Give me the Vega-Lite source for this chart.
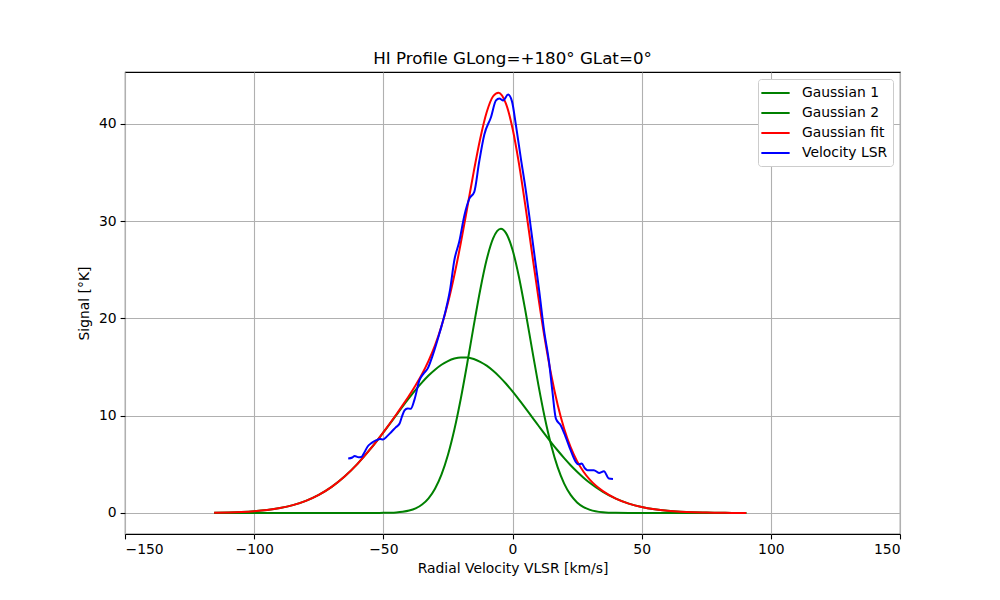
{
  "$schema": "https://vega.github.io/schema/vega-lite/v6.json",
  "width": 775,
  "height": 462,
  "autosize": {"type": "none"},
  "padding": {"left": 125, "top": 72, "right": 100, "bottom": 66},
  "background": "white",
  "title": {
    "text": "HI Profile GLong=+180° GLat=0°",
    "font": "DejaVu Sans",
    "fontSize": 16.7,
    "fontWeight": "normal",
    "color": "#000000",
    "anchor": "middle",
    "offset": 4
  },
  "data": {
    "values": [
      {"velocity": -115.5, "signal": 0.027, "series": "Gaussian 1"},
      {"velocity": -110, "signal": 0.055, "series": "Gaussian 1"},
      {"velocity": -105, "signal": 0.100, "series": "Gaussian 1"},
      {"velocity": -100, "signal": 0.178, "series": "Gaussian 1"},
      {"velocity": -95, "signal": 0.304, "series": "Gaussian 1"},
      {"velocity": -90, "signal": 0.504, "series": "Gaussian 1"},
      {"velocity": -85, "signal": 0.806, "series": "Gaussian 1"},
      {"velocity": -80, "signal": 1.247, "series": "Gaussian 1"},
      {"velocity": -75, "signal": 1.862, "series": "Gaussian 1"},
      {"velocity": -70, "signal": 2.688, "series": "Gaussian 1"},
      {"velocity": -65, "signal": 3.749, "series": "Gaussian 1"},
      {"velocity": -60, "signal": 5.05, "series": "Gaussian 1"},
      {"velocity": -55, "signal": 6.578, "series": "Gaussian 1"},
      {"velocity": -50, "signal": 8.277, "series": "Gaussian 1"},
      {"velocity": -45, "signal": 10.06, "series": "Gaussian 1"},
      {"velocity": -42.5, "signal": 10.96, "series": "Gaussian 1"},
      {"velocity": -40, "signal": 11.82, "series": "Gaussian 1"},
      {"velocity": -37.5, "signal": 12.65, "series": "Gaussian 1"},
      {"velocity": -35, "signal": 13.42, "series": "Gaussian 1"},
      {"velocity": -32.5, "signal": 14.12, "series": "Gaussian 1"},
      {"velocity": -30, "signal": 14.72, "series": "Gaussian 1"},
      {"velocity": -27.5, "signal": 15.23, "series": "Gaussian 1"},
      {"velocity": -25, "signal": 15.61, "series": "Gaussian 1"},
      {"velocity": -22.5, "signal": 15.87, "series": "Gaussian 1"},
      {"velocity": -20, "signal": 15.99, "series": "Gaussian 1"},
      {"velocity": -17.5, "signal": 15.98, "series": "Gaussian 1"},
      {"velocity": -15, "signal": 15.83, "series": "Gaussian 1"},
      {"velocity": -12.5, "signal": 15.54, "series": "Gaussian 1"},
      {"velocity": -10, "signal": 15.14, "series": "Gaussian 1"},
      {"velocity": -7.5, "signal": 14.61, "series": "Gaussian 1"},
      {"velocity": -5, "signal": 13.99, "series": "Gaussian 1"},
      {"velocity": -2.5, "signal": 13.28, "series": "Gaussian 1"},
      {"velocity": 0, "signal": 12.49, "series": "Gaussian 1"},
      {"velocity": 2.5, "signal": 11.65, "series": "Gaussian 1"},
      {"velocity": 5, "signal": 10.78, "series": "Gaussian 1"},
      {"velocity": 7.5, "signal": 9.88, "series": "Gaussian 1"},
      {"velocity": 10, "signal": 8.99, "series": "Gaussian 1"},
      {"velocity": 12.5, "signal": 8.10, "series": "Gaussian 1"},
      {"velocity": 15, "signal": 7.24, "series": "Gaussian 1"},
      {"velocity": 17.5, "signal": 6.42, "series": "Gaussian 1"},
      {"velocity": 20, "signal": 5.64, "series": "Gaussian 1"},
      {"velocity": 22.5, "signal": 4.91, "series": "Gaussian 1"},
      {"velocity": 25, "signal": 4.24, "series": "Gaussian 1"},
      {"velocity": 27.5, "signal": 3.63, "series": "Gaussian 1"},
      {"velocity": 30, "signal": 3.08, "series": "Gaussian 1"},
      {"velocity": 35, "signal": 2.165, "series": "Gaussian 1"},
      {"velocity": 40, "signal": 1.469, "series": "Gaussian 1"},
      {"velocity": 45, "signal": 0.964, "series": "Gaussian 1"},
      {"velocity": 50, "signal": 0.611, "series": "Gaussian 1"},
      {"velocity": 55, "signal": 0.374, "series": "Gaussian 1"},
      {"velocity": 60, "signal": 0.221, "series": "Gaussian 1"},
      {"velocity": 65, "signal": 0.127, "series": "Gaussian 1"},
      {"velocity": 70, "signal": 0.070, "series": "Gaussian 1"},
      {"velocity": 75, "signal": 0.037, "series": "Gaussian 1"},
      {"velocity": 80, "signal": 0.019, "series": "Gaussian 1"},
      {"velocity": 85, "signal": 0.010, "series": "Gaussian 1"},
      {"velocity": 90.5, "signal": 0.004, "series": "Gaussian 1"},

      {"velocity": -115.5, "signal": 0, "series": "Gaussian 2"},
      {"velocity": -90, "signal": 0, "series": "Gaussian 2"},
      {"velocity": -70, "signal": 0, "series": "Gaussian 2"},
      {"velocity": -60, "signal": 0, "series": "Gaussian 2"},
      {"velocity": -55, "signal": 0.001, "series": "Gaussian 2"},
      {"velocity": -50, "signal": 0.012, "series": "Gaussian 2"},
      {"velocity": -45, "signal": 0.059, "series": "Gaussian 2"},
      {"velocity": -42.5, "signal": 0.124, "series": "Gaussian 2"},
      {"velocity": -40, "signal": 0.249, "series": "Gaussian 2"},
      {"velocity": -37.5, "signal": 0.476, "series": "Gaussian 2"},
      {"velocity": -35, "signal": 0.867, "series": "Gaussian 2"},
      {"velocity": -32.5, "signal": 1.507, "series": "Gaussian 2"},
      {"velocity": -30, "signal": 2.50, "series": "Gaussian 2"},
      {"velocity": -27.5, "signal": 3.95, "series": "Gaussian 2"},
      {"velocity": -25, "signal": 5.96, "series": "Gaussian 2"},
      {"velocity": -22.5, "signal": 8.58, "series": "Gaussian 2"},
      {"velocity": -20, "signal": 11.77, "series": "Gaussian 2"},
      {"velocity": -17.5, "signal": 15.41, "series": "Gaussian 2"},
      {"velocity": -15, "signal": 19.25, "series": "Gaussian 2"},
      {"velocity": -12.5, "signal": 22.92, "series": "Gaussian 2"},
      {"velocity": -10, "signal": 26.04, "series": "Gaussian 2"},
      {"velocity": -7.5, "signal": 28.22, "series": "Gaussian 2"},
      {"velocity": -4.5, "signal": 29.2, "series": "Gaussian 2"},
      {"velocity": -2.5, "signal": 28.76, "series": "Gaussian 2"},
      {"velocity": 0, "signal": 27.05, "series": "Gaussian 2"},
      {"velocity": 2.5, "signal": 24.26, "series": "Gaussian 2"},
      {"velocity": 5, "signal": 20.76, "series": "Gaussian 2"},
      {"velocity": 7.5, "signal": 16.94, "series": "Gaussian 2"},
      {"velocity": 10, "signal": 13.19, "series": "Gaussian 2"},
      {"velocity": 12.5, "signal": 9.79, "series": "Gaussian 2"},
      {"velocity": 15, "signal": 6.94, "series": "Gaussian 2"},
      {"velocity": 17.5, "signal": 4.68, "series": "Gaussian 2"},
      {"velocity": 20, "signal": 3.02, "series": "Gaussian 2"},
      {"velocity": 22.5, "signal": 1.855, "series": "Gaussian 2"},
      {"velocity": 25, "signal": 1.087, "series": "Gaussian 2"},
      {"velocity": 27.5, "signal": 0.608, "series": "Gaussian 2"},
      {"velocity": 30, "signal": 0.324, "series": "Gaussian 2"},
      {"velocity": 35, "signal": 0.080, "series": "Gaussian 2"},
      {"velocity": 40, "signal": 0.016, "series": "Gaussian 2"},
      {"velocity": 45, "signal": 0.002, "series": "Gaussian 2"},
      {"velocity": 50, "signal": 0, "series": "Gaussian 2"},
      {"velocity": 70, "signal": 0, "series": "Gaussian 2"},
      {"velocity": 90.5, "signal": 0, "series": "Gaussian 2"},

      {"velocity": -115.5, "signal": 0.027, "series": "Gaussian fit"},
      {"velocity": -110, "signal": 0.055, "series": "Gaussian fit"},
      {"velocity": -105, "signal": 0.100, "series": "Gaussian fit"},
      {"velocity": -100, "signal": 0.178, "series": "Gaussian fit"},
      {"velocity": -95, "signal": 0.304, "series": "Gaussian fit"},
      {"velocity": -90, "signal": 0.504, "series": "Gaussian fit"},
      {"velocity": -85, "signal": 0.806, "series": "Gaussian fit"},
      {"velocity": -80, "signal": 1.247, "series": "Gaussian fit"},
      {"velocity": -75, "signal": 1.862, "series": "Gaussian fit"},
      {"velocity": -70, "signal": 2.688, "series": "Gaussian fit"},
      {"velocity": -65, "signal": 3.749, "series": "Gaussian fit"},
      {"velocity": -60, "signal": 5.05, "series": "Gaussian fit"},
      {"velocity": -55, "signal": 6.579, "series": "Gaussian fit"},
      {"velocity": -50, "signal": 8.289, "series": "Gaussian fit"},
      {"velocity": -45, "signal": 10.12, "series": "Gaussian fit"},
      {"velocity": -42.5, "signal": 11.08, "series": "Gaussian fit"},
      {"velocity": -40, "signal": 12.07, "series": "Gaussian fit"},
      {"velocity": -37.5, "signal": 13.13, "series": "Gaussian fit"},
      {"velocity": -35, "signal": 14.29, "series": "Gaussian fit"},
      {"velocity": -32.5, "signal": 15.63, "series": "Gaussian fit"},
      {"velocity": -30, "signal": 17.22, "series": "Gaussian fit"},
      {"velocity": -27.5, "signal": 19.18, "series": "Gaussian fit"},
      {"velocity": -25, "signal": 21.57, "series": "Gaussian fit"},
      {"velocity": -22.5, "signal": 24.45, "series": "Gaussian fit"},
      {"velocity": -20, "signal": 27.76, "series": "Gaussian fit"},
      {"velocity": -17.5, "signal": 31.39, "series": "Gaussian fit"},
      {"velocity": -15, "signal": 35.08, "series": "Gaussian fit"},
      {"velocity": -12.5, "signal": 38.46, "series": "Gaussian fit"},
      {"velocity": -10, "signal": 41.18, "series": "Gaussian fit"},
      {"velocity": -7.5, "signal": 42.83, "series": "Gaussian fit"},
      {"velocity": -5.4, "signal": 43.2, "series": "Gaussian fit"},
      {"velocity": -2.5, "signal": 42.04, "series": "Gaussian fit"},
      {"velocity": 0, "signal": 39.54, "series": "Gaussian fit"},
      {"velocity": 2.5, "signal": 35.91, "series": "Gaussian fit"},
      {"velocity": 5, "signal": 31.54, "series": "Gaussian fit"},
      {"velocity": 7.5, "signal": 26.82, "series": "Gaussian fit"},
      {"velocity": 10, "signal": 22.18, "series": "Gaussian fit"},
      {"velocity": 12.5, "signal": 17.89, "series": "Gaussian fit"},
      {"velocity": 15, "signal": 14.18, "series": "Gaussian fit"},
      {"velocity": 17.5, "signal": 11.10, "series": "Gaussian fit"},
      {"velocity": 20, "signal": 8.66, "series": "Gaussian fit"},
      {"velocity": 22.5, "signal": 6.77, "series": "Gaussian fit"},
      {"velocity": 25, "signal": 5.33, "series": "Gaussian fit"},
      {"velocity": 27.5, "signal": 4.24, "series": "Gaussian fit"},
      {"velocity": 30, "signal": 3.40, "series": "Gaussian fit"},
      {"velocity": 35, "signal": 2.245, "series": "Gaussian fit"},
      {"velocity": 40, "signal": 1.485, "series": "Gaussian fit"},
      {"velocity": 45, "signal": 0.966, "series": "Gaussian fit"},
      {"velocity": 50, "signal": 0.611, "series": "Gaussian fit"},
      {"velocity": 55, "signal": 0.374, "series": "Gaussian fit"},
      {"velocity": 60, "signal": 0.221, "series": "Gaussian fit"},
      {"velocity": 65, "signal": 0.127, "series": "Gaussian fit"},
      {"velocity": 70, "signal": 0.070, "series": "Gaussian fit"},
      {"velocity": 75, "signal": 0.037, "series": "Gaussian fit"},
      {"velocity": 80, "signal": 0.019, "series": "Gaussian fit"},
      {"velocity": 85, "signal": 0.010, "series": "Gaussian fit"},
      {"velocity": 90.5, "signal": 0.004, "series": "Gaussian fit"},

      {"velocity": -63.6, "signal": 5.6, "series": "Velocity LSR"},
      {"velocity": -62.0, "signal": 5.7, "series": "Velocity LSR"},
      {"velocity": -61.1, "signal": 5.86, "series": "Velocity LSR"},
      {"velocity": -59.6, "signal": 5.72, "series": "Velocity LSR"},
      {"velocity": -58.5, "signal": 5.76, "series": "Velocity LSR"},
      {"velocity": -57.4, "signal": 6.2, "series": "Velocity LSR"},
      {"velocity": -56.0, "signal": 6.86, "series": "Velocity LSR"},
      {"velocity": -54.5, "signal": 7.2, "series": "Velocity LSR"},
      {"velocity": -52.7, "signal": 7.48, "series": "Velocity LSR"},
      {"velocity": -51.2, "signal": 7.6, "series": "Velocity LSR"},
      {"velocity": -50.1, "signal": 7.55, "series": "Velocity LSR"},
      {"velocity": -48.5, "signal": 7.9, "series": "Velocity LSR"},
      {"velocity": -46.9, "signal": 8.33, "series": "Velocity LSR"},
      {"velocity": -45.2, "signal": 8.8, "series": "Velocity LSR"},
      {"velocity": -43.7, "signal": 9.2, "series": "Velocity LSR"},
      {"velocity": -42.8, "signal": 9.9, "series": "Velocity LSR"},
      {"velocity": -41.8, "signal": 10.55, "series": "Velocity LSR"},
      {"velocity": -40.6, "signal": 10.75, "series": "Velocity LSR"},
      {"velocity": -39.4, "signal": 10.7, "series": "Velocity LSR"},
      {"velocity": -38.0, "signal": 11.6, "series": "Velocity LSR"},
      {"velocity": -36.0, "signal": 13.65, "series": "Velocity LSR"},
      {"velocity": -34.5, "signal": 14.3, "series": "Velocity LSR"},
      {"velocity": -32.8, "signal": 14.86, "series": "Velocity LSR"},
      {"velocity": -30.9, "signal": 16.2, "series": "Velocity LSR"},
      {"velocity": -28.3, "signal": 18.45, "series": "Velocity LSR"},
      {"velocity": -25.7, "signal": 21.0, "series": "Velocity LSR"},
      {"velocity": -24.2, "signal": 22.9, "series": "Velocity LSR"},
      {"velocity": -22.5, "signal": 26.0, "series": "Velocity LSR"},
      {"velocity": -20.6, "signal": 27.9, "series": "Velocity LSR"},
      {"velocity": -18.6, "signal": 30.6, "series": "Velocity LSR"},
      {"velocity": -16.7, "signal": 32.3, "series": "Velocity LSR"},
      {"velocity": -14.8, "signal": 33.0, "series": "Velocity LSR"},
      {"velocity": -12.9, "signal": 36.1, "series": "Velocity LSR"},
      {"velocity": -10.9, "signal": 38.9, "series": "Velocity LSR"},
      {"velocity": -8.3, "signal": 40.7, "series": "Velocity LSR"},
      {"velocity": -6.4, "signal": 42.4, "series": "Velocity LSR"},
      {"velocity": -5.1, "signal": 42.6, "series": "Velocity LSR"},
      {"velocity": -3.6, "signal": 42.4, "series": "Velocity LSR"},
      {"velocity": -1.7, "signal": 43.0, "series": "Velocity LSR"},
      {"velocity": -0.2, "signal": 42.3, "series": "Velocity LSR"},
      {"velocity": 1.3, "signal": 39.9, "series": "Velocity LSR"},
      {"velocity": 3.2, "signal": 36.5, "series": "Velocity LSR"},
      {"velocity": 5.4, "signal": 32.7, "series": "Velocity LSR"},
      {"velocity": 7.1, "signal": 29.3, "series": "Velocity LSR"},
      {"velocity": 9.0, "signal": 25.5, "series": "Velocity LSR"},
      {"velocity": 10.3, "signal": 22.9, "series": "Velocity LSR"},
      {"velocity": 12.2, "signal": 18.8, "series": "Velocity LSR"},
      {"velocity": 14.2, "signal": 15.4, "series": "Velocity LSR"},
      {"velocity": 15.4, "signal": 12.6, "series": "Velocity LSR"},
      {"velocity": 16.8, "signal": 9.7, "series": "Velocity LSR"},
      {"velocity": 18.7, "signal": 9.0, "series": "Velocity LSR"},
      {"velocity": 20.6, "signal": 7.8, "series": "Velocity LSR"},
      {"velocity": 22.5, "signal": 6.45, "series": "Velocity LSR"},
      {"velocity": 24.5, "signal": 5.25, "series": "Velocity LSR"},
      {"velocity": 25.5, "signal": 5.0, "series": "Velocity LSR"},
      {"velocity": 26.8, "signal": 5.08, "series": "Velocity LSR"},
      {"velocity": 28.0, "signal": 4.6, "series": "Velocity LSR"},
      {"velocity": 29.0, "signal": 4.39, "series": "Velocity LSR"},
      {"velocity": 31.5, "signal": 4.39, "series": "Velocity LSR"},
      {"velocity": 33.5, "signal": 4.12, "series": "Velocity LSR"},
      {"velocity": 35.4, "signal": 4.29, "series": "Velocity LSR"},
      {"velocity": 37.3, "signal": 3.54, "series": "Velocity LSR"},
      {"velocity": 38.9, "signal": 3.5, "series": "Velocity LSR"}
    ]
  },
  "mark": {"type": "line", "strokeWidth": 2, "interpolate": "monotone"},
  "encoding": {
    "x": {
      "field": "velocity",
      "type": "quantitative",
      "title": "Radial Velocity VLSR [km/s]",
      "scale": {"domain": [-150, 150], "nice": false, "zero": false},
      "axis": {"values": [-150, -100, -50, 0, 50, 100, 150], "format": "d"}
    },
    "y": {
      "field": "signal",
      "type": "quantitative",
      "title": "Signal [°K]",
      "scale": {"domain": [-2.16, 45.32], "nice": false, "zero": false},
      "axis": {"values": [0, 10, 20, 30, 40], "format": "d", "titlePadding": 7}
    },
    "color": {
      "field": "series",
      "type": "nominal",
      "scale": {
        "domain": ["Gaussian 1", "Gaussian 2", "Gaussian fit", "Velocity LSR"],
        "range": ["#008000", "#008000", "#ff0000", "#0000ff"]
      },
      "legend": {"title": null}
    }
  },
  "config": {
    "view": {"stroke": "#000000", "strokeWidth": 1.1},
    "axis": {
      "domain": false,
      "grid": true,
      "gridColor": "#b0b0b0",
      "gridWidth": 1.1,
      "ticks": true,
      "tickColor": "#000000",
      "tickSize": 4.9,
      "tickWidth": 1.1,
      "labelFont": "DejaVu Sans",
      "labelFontSize": 13.9,
      "labelColor": "#000000",
      "labelPadding": 4,
      "titleFont": "DejaVu Sans",
      "titleFontSize": 13.9,
      "titleFontWeight": "normal",
      "titleColor": "#000000",
      "titlePadding": 5
    },
    "legend": {
      "orient": "top-right",
      "offset": 7,
      "symbolType": "M-2,0H2",
      "symbolStrokeWidth": 2,
      "symbolSize": 200,
      "symbolOffset": 3.5,
      "labelFont": "DejaVu Sans",
      "labelFontSize": 13.9,
      "labelColor": "#000000",
      "labelOffset": 18,
      "rowPadding": 4,
      "padding": 5.5,
      "strokeColor": "#cccccc",
      "fillColor": "#ffffff",
      "cornerRadius": 3
    }
  }
}
